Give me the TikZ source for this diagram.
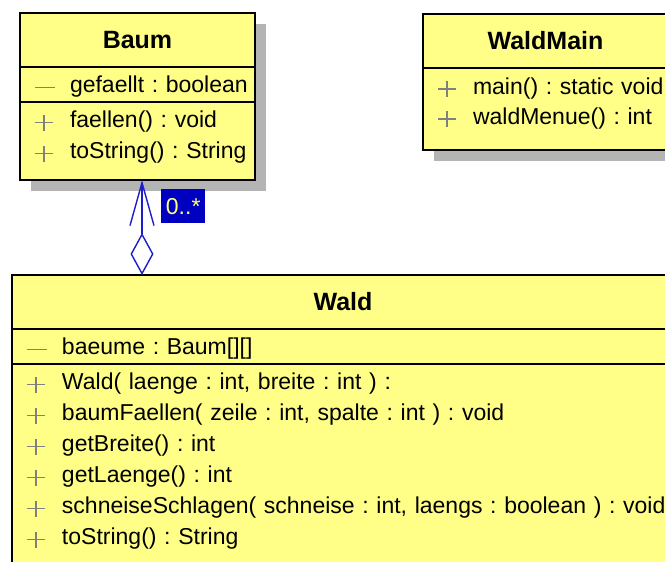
\documentclass[tikz,border=0pt]{standalone}
\usepackage{fontspec}
\setmainfont{Liberation Sans}
\usetikzlibrary{arrows.meta,positioning,shadows}
\definecolor{umlyellow}{RGB}{255,255,136}
\definecolor{shadowgray}{RGB}{180,180,180}
\definecolor{symgray}{RGB}{128,128,128}
\definecolor{umlblue}{RGB}{30,30,200}
\definecolor{labelblue}{RGB}{0,0,192}
\definecolor{labelyellow}{RGB}{255,255,128}
\frenchspacing
\newcommand\umlplus{\makebox[50pt][l]{\hspace{15pt}\color{symgray}\rlap{\rule[4.2pt]{18pt}{1.6pt}}\hspace{8.2pt}\rule[-3pt]{1.6pt}{16pt}}}
\newcommand\umlminus{\makebox[50pt][l]{\hspace{15pt}\color{symgray}\rule[4.2pt]{20pt}{1.6pt}}}
\tikzset{
    umlshadow/.style={drop shadow={shadow xshift=11pt, shadow yshift=-11pt, opacity=1, fill=shadowgray}},
    classhead/.style={draw=black, line width=2pt, fill=umlyellow, umlshadow, outer sep=0pt,
        font=\fontsize{25}{30}\selectfont\bfseries, minimum height=54pt, inner sep=0pt, anchor=north west},
    classpart/.style={draw=black, line width=2pt, fill=umlyellow, umlshadow, outer sep=0pt,
        font=\fontsize{23}{31}\selectfont, inner sep=0pt, align=left, text height=25.5pt}
    ,
    aggline/.style={draw=umlblue, line width=1.4pt,
        {Straight Barb[length=43pt,width=24pt]}-{Diamond[length=42pt,width=23pt,fill=white]}},
    multlabel/.style={fill=labelblue, text=labelyellow, font=\fontsize{23}{28}\selectfont,
        minimum width=44pt, minimum height=34pt, inner sep=0pt, anchor=north west}
}

\begin{document}
\begin{tikzpicture}[x=1pt,y=-1pt]
\useasboundingbox (0,0) rectangle (665,562);
\clip (0,0) rectangle (665,562);
\fill[white] (0,0) rectangle (665,562);
% Baum
\node[classhead, minimum width=235pt] (baumHead) at (20,13) {Baum};
\node[classpart, text width=235pt, text depth=9.5pt, below=0pt of baumHead] (baumAttr) {\umlminus gefaellt : boolean};
\node[classpart, text width=235pt, text depth=52.5pt, below=0pt of baumAttr] (baumOps)
    {\umlplus faellen() : void\\ \umlplus toString() : String};
% WaldMain
\node[classhead, minimum width=245pt] (mainHead) at (423,14) {WaldMain};
\node[classpart, text width=245pt, text height=26pt, text depth=56pt, below=0pt of mainHead,
    font=\fontsize{23}{30}\selectfont] (mainOps)
    {\umlplus main() : static void\\ \umlplus waldMenue() : int};
% Wald
\node[classhead, minimum width=662pt] (waldHead) at (12,275) {Wald};
\node[classpart, text width=662pt, text depth=9.5pt, below=0pt of waldHead] (waldAttr)
    {\umlminus baeume : Baum[][]};
\node[classpart, text width=662pt, text depth=249.5pt, below=0pt of waldAttr] (waldOps)
    {\umlplus Wald( laenge : int, breite : int ) :\\
     \umlplus baumFaellen( zeile : int, spalte : int ) : void\\
     \umlplus getBreite() : int\\
     \umlplus getLaenge() : int\\
     \umlplus schneiseSchlagen( schneise : int, laengs : boolean ) : void\\
     \umlplus toString() : String};
% aggregation Wald <>-- Baum
\coordinate (aggStart) at ([xshift=4.5pt]baumOps.south);
\draw[aggline] (aggStart) -- (aggStart |- waldHead.north);
\node[multlabel] (mult) at ([shift={(19,9)}]aggStart) {0..*};
\end{tikzpicture}
\end{document}
